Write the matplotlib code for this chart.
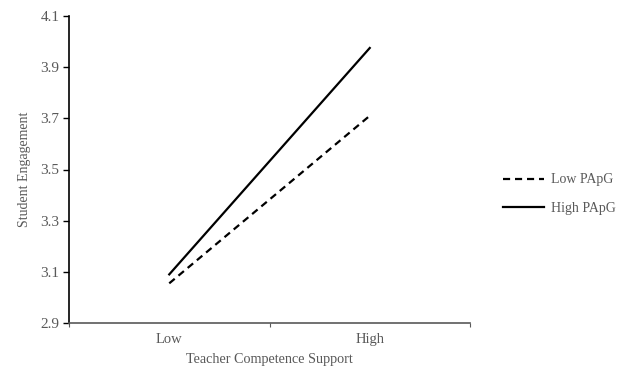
import matplotlib.pyplot as plt

# data
categories = ['Low', 'High']
low_papg = [3.055, 3.71]
high_papg = [3.09, 3.975]
y_ticks = [2.9, 3.1, 3.3, 3.5, 3.7, 3.9, 4.1]

plt.rcParams['font.family'] = ['Liberation Serif', 'DejaVu Serif']
grey = '#595959'

fig = plt.figure(figsize=(6.24, 3.73), dpi=100)
ax = fig.add_axes([69 / 624, 50 / 373, 401 / 624, 307 / 373])

xs = [0.5, 1.5]
ax.plot(xs, low_papg, color='black', lw=1.6, ls=(0, (3.2, 2.2)), label='Low PApG')
ax.plot(xs, high_papg, color='black', lw=1.6, label='High PApG')

ax.set_xlim(0, 2)
ax.set_ylim(2.9, 4.1)
ax.set_yticks(y_ticks)
ax.set_yticklabels([f'{v:.1f}' for v in y_ticks])
ax.set_xticks([0, 1, 2])
ax.set_xticklabels([])
ax.set_xticks(xs, minor=True)
ax.set_xticklabels(categories, minor=True)
ax.tick_params(axis='x', which='minor', length=0, pad=7, labelsize=10.5, labelcolor=grey)
ax.tick_params(axis='x', which='major', length=3, color=grey)
ax.tick_params(axis='y', length=4, width=1, color='black', labelsize=11, labelcolor=grey, pad=3)

for s in ['top', 'right']:
    ax.spines[s].set_visible(False)
ax.spines['left'].set_color('black')
ax.spines['left'].set_linewidth(1.2)
ax.spines['bottom'].set_color(grey)
ax.spines['bottom'].set_linewidth(1.2)

ax.set_xlabel('Teacher Competence Support', fontsize=10.2, color=grey, labelpad=5)
ax.set_ylabel('Student Engagement', fontsize=10, color=grey, labelpad=7)

ax.legend(loc='center left', bbox_to_anchor=(490 / 624, 1 - 194 / 373), bbox_transform=fig.transFigure,
          frameon=False, fontsize=10, labelcolor=grey, handlelength=3.0, handletextpad=0.5,
          labelspacing=1.1)

fig.savefig('out.png', dpi=100)
